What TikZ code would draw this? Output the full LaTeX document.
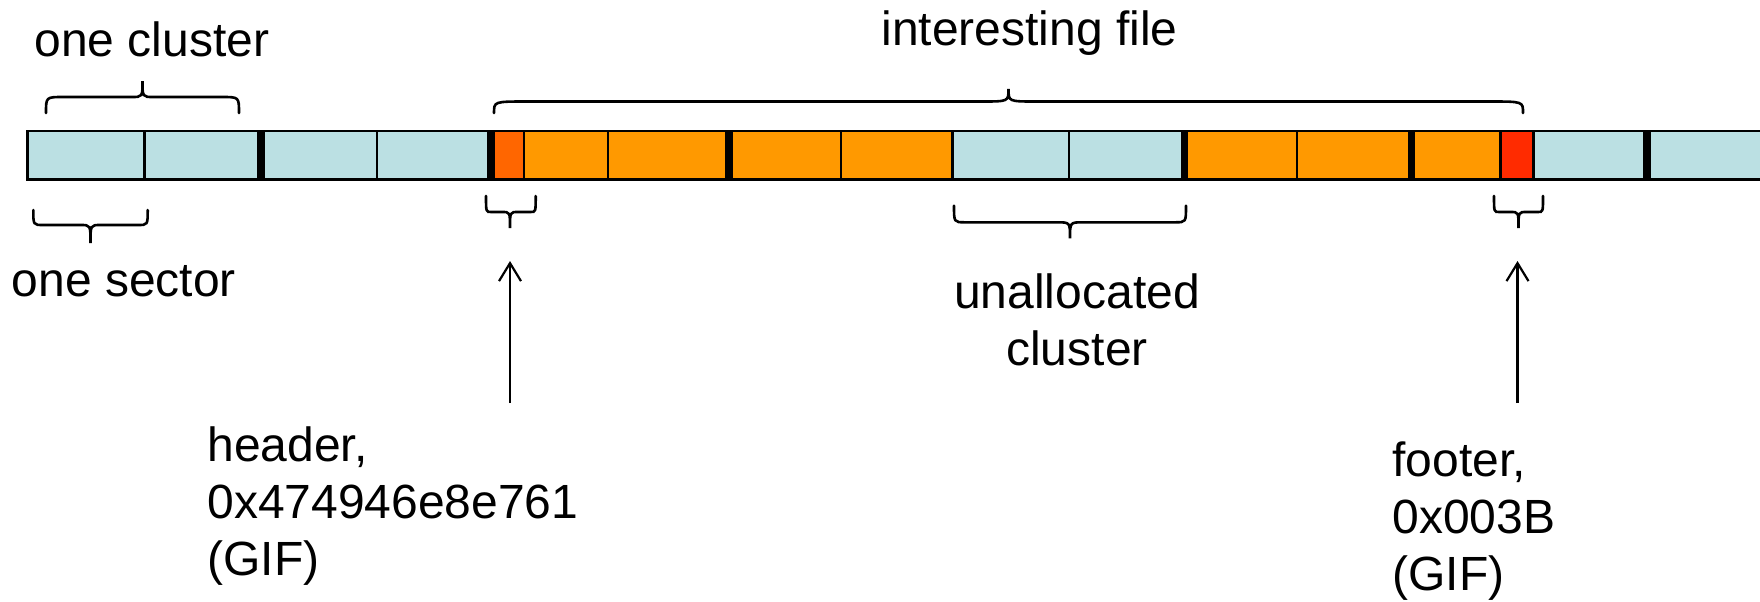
\documentclass[tikz,border=0pt]{standalone}
\usepackage{fontspec}
\setmainfont{Liberation Sans}
\usetikzlibrary{arrows.meta}
\definecolor{cblue}{HTML}{BBE0E3}
\definecolor{corange}{HTML}{FF9900}
\definecolor{chead}{HTML}{FF6600}
\definecolor{cfoot}{HTML}{FF2B00}
% x1, x2, xm, yend, yh, ytip, rc, rt
\newcommand{\mybracepath}[8]{%
  \draw[bracestyle] (#1,#4) .. controls (#1,#5) .. (#1+#7,#5) -- (#3-#8,#5)
    .. controls (#3,#5) .. (#3,#6) .. controls (#3,#5) .. (#3+#8,#5)
    -- (#2-#7,#5) .. controls (#2,#5) .. (#2,#4);}
\begin{document}
\begin{tikzpicture}[x=0.5pt,y=-0.5pt,
  bracestyle/.style={line width=1.3pt, line cap=round},
  thinsep/.style={line width=1.25pt},
  thicksep/.style={line width=3.9pt},
  lbl/.style={inner sep=0pt, font=\fontsize{24}{28.5}\selectfont},
  arr/.style={line width=1.1pt, -{Straight Barb[length=9pt,width=11pt]}}]
\useasboundingbox (0,0) rectangle (1760,601);
\clip (0,0) rectangle (1760,601);
% strip
\fill[cblue] (27.7,131) rectangle (491.5,179.3);
\fill[chead] (491.5,131) rectangle (524,179.3);
\fill[corange] (524,131) rectangle (952.7,179.3);
\fill[cblue] (952.7,131) rectangle (1184.5,179.3);
\fill[corange] (1184.5,131) rectangle (1500.7,179.3);
\fill[cfoot] (1500.7,131) rectangle (1533.3,179.3);
\fill[cblue] (1533.3,131) rectangle (1780,179.3);
\draw[line width=1.25pt] (27.7,131) rectangle (1780,179.3);
\foreach \x in {144.3,377,524,608,841,952.7,1069,1297,1500.7,1533.3}
  \draw[thinsep] (\x,131) -- (\x,179.3);
\foreach \x in {261,491,729,1184.5,1411.5,1647}
  \draw[thicksep] (\x,130.5) -- (\x,181);
% braces
\mybracepath{46}{239}{142.5}{113}{97}{81}{17}{11}
\mybracepath{494}{1523}{1008.5}{113}{101.5}{89}{33}{27}
\mybracepath{33.3}{147.7}{90.5}{210}{225}{243}{10}{10}
\mybracepath{486}{535.7}{510}{196}{212}{228}{5}{8}
\mybracepath{954}{1186}{1070}{205.7}{222.3}{238.3}{11}{13}
\mybracepath{1494}{1543}{1518.5}{196}{212}{228}{5}{8}
% labels
\node[lbl, anchor=base west] (onecluster) at (34,56) {one cluster};
\node[lbl, anchor=base west] (intfile) at (881,45) {interesting file};
\node[lbl, anchor=base west] (onesector) at (11.5,296) {one sector};
\node[lbl, anchor=north, align=center] (unalloc) at (1077,273) {unallocated\\cluster};
\node[lbl, anchor=north west, align=left] (header) at (207,426) {header,\\0x474946e8e761\\(GIF)};
\node[lbl, anchor=north west, align=left] (footer) at (1392,441) {footer,\\0x003B\\(GIF)};
% arrows
\coordinate (hA) at (510,403);
\coordinate (hB) at (510,261);
\coordinate (fA) at (1517.5,403);
\coordinate (fB) at (1517.5,261);
\draw[arr] (hA) -- (hB);
\draw[arr] (fA) -- (fB);
\end{tikzpicture}
\end{document}
